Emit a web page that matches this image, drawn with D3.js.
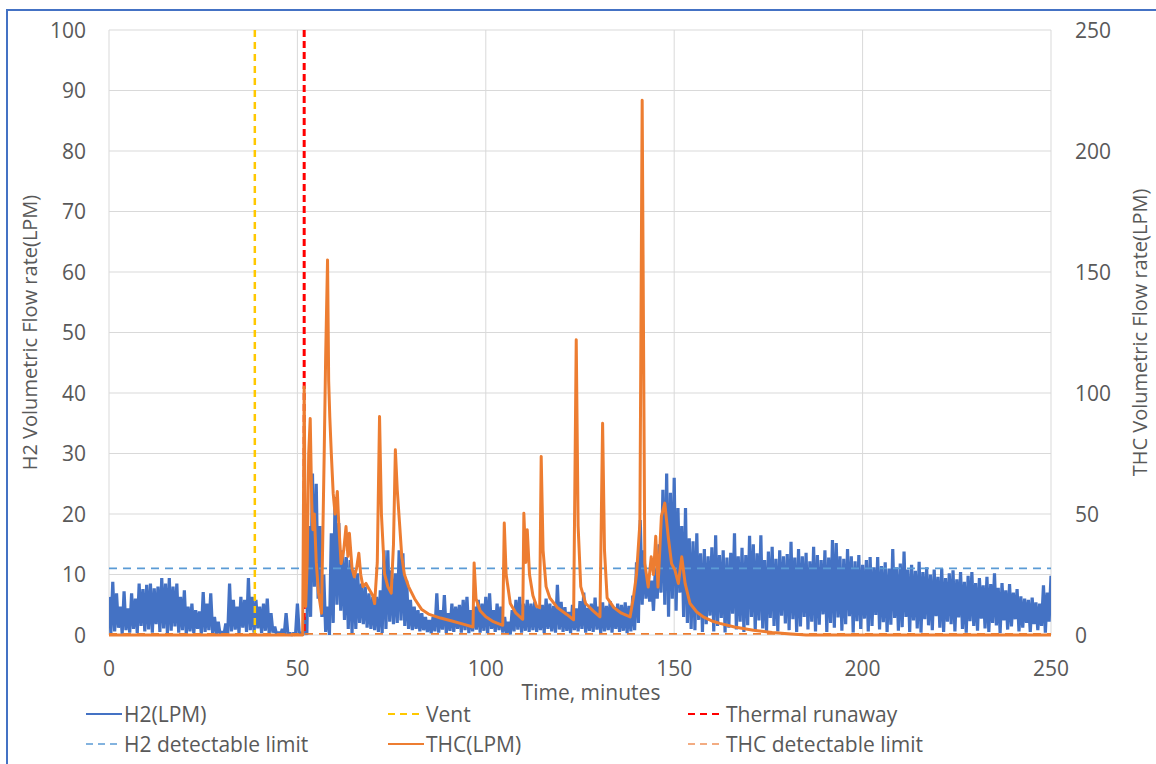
<!DOCTYPE html>
<html>
<head>
<meta charset="utf-8">
<script src="https://cdn.jsdelivr.net/npm/d3@7"></script>
<style>
body { margin: 0; background: #fff; }
svg text { font-family: "Open Sans", sans-serif; fill: #595959; }
</style>
</head>
<body>
<div id="chart"></div>
<script>
// axis ticks
const timeTicks = [0, 50, 100, 150, 200, 250];
const h2Ticks = [0, 10, 20, 30, 40, 50, 60, 70, 80, 90, 100];
const thcTicks = [0, 50, 100, 150, 200, 250];

// event markers and limits
const ventTime = 38.7;
const runawayTime = 51.8;
const h2Limit = 11;     // left axis
const thcLimit = 0.5;   // right axis

// H2 (LPM): per-minute upper and lower envelope, t = 0..250
const h2Hi = [
  6.3, 8.8, 6.9, 4.7, 7.2, 4.4, 6.9, 6.0, 8.5, 7.6,
  8.3, 8.5, 7.7, 8.0, 9.4, 8.5, 9.4, 8.0, 8.5, 6.3,
  7.4, 4.7, 5.2, 4.1, 3.9, 7.1, 5.2, 6.9, 3.0, 2.2,
  0.6, 1.9, 8.5, 5.8, 4.7, 6.3, 5.8, 9.4, 6.3, 5.8,
  4.7, 5.2, 6.0, 3.6, 1.4, 0.5, 1.0, 3.6, 0.3, 0.3,
  5.2, 0.4, 3.0, 18, 26.7, 25, 18, 10, 4.7, 16.8,
  22.8, 18.5, 14, 12.9, 12.4, 10.7, 10.2, 8.5, 8, 6.9,
  6.3, 6.3, 7.4, 14, 14, 10.7, 10.2, 14, 13.5, 9,
  5.8, 4.7, 4.1, 3.6, 3.0, 2.5, 3.0, 6.9, 4.1, 6.6,
  3.6, 5.2, 4.7, 5.0, 5.8, 6.3, 4.1, 4.7, 5.8, 5.2,
  6.3, 6.9, 4.1, 5.2, 4.7, 3.0, 2.2, 4.1, 5.8, 6.3,
  5.2, 5.8, 5.2, 5.5, 4.5, 5.0, 6.0, 5.2, 4.8, 8.3,
  5.5, 4.6, 3.8, 5.0, 4.4, 5.6, 7.0, 4.5, 5.2, 6.2,
  4.7, 5.4, 4.8, 5.6, 4.6, 5.2, 5.0, 5.4, 4.8, 6.5,
  12, 19, 14, 10, 9, 11, 15, 24, 26.7, 23.5,
  26, 21, 18, 21, 16, 15.5, 16.8, 13.5, 14.2, 13,
  14.5, 16.5, 13.2, 14, 12.8, 13.6, 16.8, 13, 14.4, 13.2,
  16.4, 15, 13.5, 16.5, 12.4, 13.8, 14.6, 12.6, 14, 13,
  13.4, 15.4, 12.8, 14.2, 13, 13.6, 12.2, 14.6, 13.2, 12.4,
  14, 12.8, 15.7, 15.2, 13, 12.6, 14.2, 13, 12.2, 13.2,
  11.6, 12.4, 12.9, 11.2, 12.9, 11.4, 12, 11, 14.2, 11.2,
  11.8, 13.8, 10.8, 11.6, 10.6, 12.1, 10.4, 11.2, 10, 10.8,
  9.6, 11, 9.4, 10.2, 10.7, 9.2, 10.4, 8.8, 9.8, 10.4,
  8.6, 9.4, 8.2, 9.6, 8.4, 10.2, 7.8, 8.6, 7.4, 8.4,
  7, 7.6, 6.4, 6, 5.8, 6.2, 5.4, 5.2, 8.2, 7,
  9.8
];
const h2Lo = [
  0.3, 0.6, 1.2, 0.2, 0.8, 0.4, 1.0, 0.3, 1.5, 0.6,
  0.9, 0.4, 1.8, 0.5, 1.1, 0.3, 0.7, 1.4, 0.4, 0.8,
  0.2, 0.6, 0.3, 1.0, 0.2, 0.5, 0.8, 0.3, 0.2, 0,
  0, 0, 0.6, 0.9, 0.3, 1.2, 0.5, 0.8, 0.4, 1.1,
  0.3, 0.7, 0.2, 0.4, 0, 0, 0, 0, 0, 0,
  0.2, 0, 0, 3, 8, 6, 3, 0.5, 0, 2,
  5, 4, 2.5, 1, 0.3, 1, 2, 1.8, 1.2, 1,
  0.8, 0.5, 0.3, 1, 2.2, 1.8, 2, 2.4, 1.5, 1,
  0.8, 1, 0.6, 0.8, 0.5, 0.3, 0.6, 0.4, 0.9, 0.3,
  0.7, 0.5, 1.0, 0.4, 0.8, 0.3, 0.6, 0.9, 0.4, 0.7,
  0.3, 1.0, 0.5, 0.8, 0.4, 0.2, 0.1, 0.6, 0.9, 0.4,
  0.7, 0.5, 0.8, 0.5, 0.8, 0.3, 1.0, 0.6, 0.4, 0.9,
  0.5, 0.7, 0.3, 0.8, 0.6, 1.0, 0.4, 0.7, 0.5, 0.9,
  0.3, 0.6, 0.8, 0.4, 1.0, 0.5, 0.7, 0.3, 0.6, 0.8,
  2, 5, 6, 5.5, 4, 6, 7, 5, 3, 6,
  4, 7, 3, 2, 1, 0.8, 2.5, 0.5, 1.8, 3.2,
  0.6, 1.5, 2.8, 0.4, 1.2, 3.5, 0.9, 2.2, 0.5, 1.6,
  3.0, 0.7, 2.4, 1.1, 0.4, 2.8, 1.5, 0.6, 3.2, 1.9,
  0.8, 2.6, 0.5, 1.4, 3.0, 0.9, 2.2, 0.6, 1.7, 3.4,
  0.5, 2.0, 1.2, 2.9, 0.7, 1.8, 3.1, 0.4, 2.3, 1.0,
  2.7, 0.6, 1.5, 3.3, 0.9, 2.1, 0.5, 1.7, 2.8, 0.7,
  1.3, 3.0, 0.5, 2.4, 1.1, 0.4, 2.6, 1.6, 0.8, 3.1,
  1.2, 0.5, 2.2, 1.8, 0.6, 2.9, 1.0, 0.4, 2.3, 1.5,
  0.7, 2.7, 1.1, 0.5, 2.0, 1.6, 0.3, 2.4, 0.9, 1.4,
  2.6, 0.6, 1.2, 2.0, 0.5, 1.8, 0.8, 1.5, 0.4, 2.2,
  1.0
];

// THC (LPM) on the right axis: [minute, value]
const thc = [
  [0, 0], [51.4, 0], [51.8, 102.5], [52.2, 11.8], [52.6, 30], [53.0, 75], [53.4, 89.5],
  [53.8, 55], [54.1, 43.5], [54.5, 50], [55.0, 30], [55.6, 17.5], [56.4, 9],
  [57.1, 73.8], [57.5, 115], [58.0, 155], [58.3, 105], [58.6, 90], [59.0, 75],
  [59.5, 58.5], [60.0, 50], [60.6, 59.3], [61.0, 45], [61.6, 29.5], [62.3, 35],
  [62.9, 44.8], [63.4, 32.5], [63.8, 42], [64.5, 27.5], [65.1, 24], [65.7, 27.5],
  [66.3, 33.8], [66.8, 25], [67.4, 20], [68.2, 21.3], [69.2, 18.5], [70.0, 16.3],
  [70.5, 13], [71.2, 30], [71.8, 90.3], [72.3, 50], [73.1, 25.5], [74.0, 20],
  [74.9, 17.3], [75.5, 37.5], [76.0, 76.5], [76.5, 60], [77.1, 46.3], [77.7, 32.5],
  [78.4, 25], [79.5, 20], [81.1, 15], [83, 10.5], [85, 8.5], [88, 7], [91, 5.8],
  [94, 4.5], [96.6, 3.3], [96.9, 29.8], [97.4, 15], [98.5, 10], [100, 7.5],
  [102, 5.5], [104.5, 4], [104.9, 46.3], [105.4, 25], [106.5, 13], [108, 9],
  [109.8, 6.5], [110.1, 50.3], [110.6, 30], [111.0, 43.5], [111.6, 25], [112.5, 16.3],
  [113.5, 11.8], [114.3, 11.3], [114.7, 73.8], [115.2, 35], [116, 20], [117, 15.3],
  [119, 11.3], [121.5, 8.5], [123.3, 6.3], [124.0, 122], [124.5, 45], [125.2, 20],
  [126.5, 13], [128.5, 10], [130.3, 7.5], [131.0, 87.5], [131.5, 35], [132.2, 15.3],
  [134, 11.3], [136, 9], [138.3, 7.5], [139.2, 15.8], [140.0, 25], [140.9, 46.3],
  [141.5, 221], [142.2, 29.5], [143.1, 19.8], [143.9, 32.3], [144.5, 25], [145.1, 40.8],
  [145.7, 19.8], [146.6, 49], [147.5, 54.5], [148.4, 40.8], [149.3, 29.5], [150.2, 26.8],
  [151.1, 21.3], [152.0, 32.3], [152.9, 21.3], [154.2, 13], [156, 9.5], [157.7, 7.5],
  [160, 5.8], [162.1, 4.8], [166, 3.3], [171, 2], [176, 1], [181, 0.4], [185, 0], [250, 0]
];

const legendLabels = ["H2(LPM)", "Vent", "Thermal runaway", "H2 detectable limit", "THC(LPM)", "THC detectable limit"];

function drawChart() {
    const width = 1156;
    const height = 764;
    const plot = { left: 109, right: 1051, top: 30, bottom: 635 };

    const svg = d3.select("#chart")
        .append("svg")
        .attr("width", width)
        .attr("height", height);

    // outer frame of the pasted chart
    svg.append("rect")
        .attr("x", 7).attr("y", 10)
        .attr("width", 1170).attr("height", 780)
        .style("fill", "none")
        .style("stroke", "#4472c4")
        .style("stroke-width", 2);

    const x = d3.scaleLinear().domain([0, 250]).range([plot.left, plot.right]);
    const yL = d3.scaleLinear().domain([0, 100]).range([plot.bottom, plot.top]);
    const yR = d3.scaleLinear().domain([0, 250]).range([plot.bottom, plot.top]);

    // gridlines
    svg.append("g").selectAll("line")
        .data(h2Ticks)
        .join("line")
        .attr("x1", plot.left).attr("x2", plot.right)
        .attr("y1", d => yL(d)).attr("y2", d => yL(d))
        .style("stroke", "#d9d9d9");

    svg.append("g").selectAll("line")
        .data(timeTicks)
        .join("line")
        .attr("x1", d => x(d)).attr("x2", d => x(d))
        .attr("y1", plot.top).attr("y2", plot.bottom)
        .style("stroke", "#d9d9d9");

    // tick labels
    svg.append("g").selectAll("text")
        .data(h2Ticks)
        .join("text")
        .attr("x", 86)
        .attr("y", d => yL(d))
        .attr("dy", "0.36em")
        .attr("text-anchor", "end")
        .style("font-size", "21px")
        .text(d => d);

    svg.append("g").selectAll("text")
        .data(thcTicks)
        .join("text")
        .attr("x", 1075)
        .attr("y", d => yR(d))
        .attr("dy", "0.36em")
        .style("font-size", "21px")
        .text(d => d);

    svg.append("g").selectAll("text")
        .data(timeTicks)
        .join("text")
        .attr("x", d => x(d))
        .attr("y", 668)
        .attr("dy", "0.36em")
        .attr("text-anchor", "middle")
        .style("font-size", "21px")
        .text(d => d);

    // axis titles
    svg.append("text")
        .attr("transform", `translate(30,${(plot.top + plot.bottom) / 2}) rotate(-90)`)
        .attr("dy", "0.36em")
        .attr("text-anchor", "middle")
        .style("font-size", "20px")
        .text("H2 Volumetric Flow rate(LPM)");

    svg.append("text")
        .attr("transform", `translate(1140,${(plot.top + plot.bottom) / 2}) rotate(-90)`)
        .attr("dy", "0.36em")
        .attr("text-anchor", "middle")
        .style("font-size", "20px")
        .text("THC Volumetric Flow rate(LPM)");

    svg.append("text")
        .attr("x", 591).attr("y", 692)
        .attr("dy", "0.36em")
        .attr("text-anchor", "middle")
        .style("font-size", "21px")
        .text("Time, minutes");

    svg.append("clipPath").attr("id", "plot-clip")
        .append("rect")
        .attr("x", plot.left).attr("y", plot.top - 2)
        .attr("width", plot.right - plot.left).attr("height", plot.bottom - plot.top + 4);

    const g = svg.append("g").attr("clip-path", "url(#plot-clip)");

    // H2 trace: zig-zag between per-minute high and low
    const h2Points = h2Hi.flatMap((v, i) => [[i, v], [i + 0.5, h2Lo[i]]]).filter(d => d[0] <= 250);
    const h2Line = d3.line().x(d => x(d[0])).y(d => yL(d[1]));
    g.append("path")
        .datum(h2Points)
        .attr("d", h2Line)
        .style("fill", "none")
        .style("stroke", "#4472c4")
        .style("stroke-width", 3.2)
        .style("stroke-linejoin", "bevel");

    // vent and thermal runaway markers
    g.append("line")
        .attr("x1", x(ventTime)).attr("x2", x(ventTime))
        .attr("y1", yL(100)).attr("y2", yL(0))
        .style("stroke", "#ffc800")
        .style("stroke-width", 2.5)
        .style("stroke-dasharray", "7,5");

    g.append("line")
        .attr("x1", x(runawayTime)).attr("x2", x(runawayTime))
        .attr("y1", yL(100)).attr("y2", yL(0))
        .style("stroke", "#ff0000")
        .style("stroke-width", 3)
        .style("stroke-dasharray", "7,4");

    // H2 detectable limit
    g.append("line")
        .attr("x1", x(0)).attr("x2", x(250))
        .attr("y1", yL(h2Limit)).attr("y2", yL(h2Limit))
        .style("stroke", "#5b9bd5")
        .style("stroke-width", 1.8)
        .style("stroke-dasharray", "8,6");

    // THC trace
    const thcLine = d3.line().x(d => x(d[0])).y(d => yR(d[1]));
    g.append("path")
        .datum(thc)
        .attr("d", thcLine)
        .style("fill", "none")
        .style("stroke", "#ed7d31")
        .style("stroke-width", 3)
        .style("stroke-linejoin", "round");

    // THC detectable limit
    g.append("line")
        .attr("x1", x(0)).attr("x2", x(250))
        .attr("y1", yR(thcLimit)).attr("y2", yR(thcLimit))
        .style("stroke", "#ed7d31")
        .style("stroke-width", 1.8)
        .style("stroke-dasharray", "8,6");

    // legend
    const legendStyles = [
        { color: "#4472c4", dash: null, w: 2 },
        { color: "#ffc800", dash: "7,5", w: 2 },
        { color: "#ff0000", dash: "7,5", w: 2 },
        { color: "#5b9bd5", dash: "7,5", w: 1.6 },
        { color: "#ed7d31", dash: null, w: 2.2 },
        { color: "#f0915a", dash: "7,5", w: 1.6 }
    ];
    const colX = [86, 388, 688];
    const rowY = [714, 744];

    const leg = svg.append("g").selectAll("g")
        .data(legendLabels)
        .join("g")
        .attr("transform", (d, i) => `translate(${colX[i % 3]},${rowY[Math.floor(i / 3)]})`);

    leg.append("line")
        .attr("x1", 0).attr("x2", 36)
        .attr("y1", 0).attr("y2", 0)
        .style("stroke", (d, i) => legendStyles[i].color)
        .style("stroke-width", (d, i) => legendStyles[i].w)
        .style("stroke-dasharray", (d, i) => legendStyles[i].dash);

    leg.append("text")
        .attr("x", 38)
        .attr("y", 0)
        .attr("dy", "0.36em")
        .style("font-size", "21px")
        .text(d => d);
}

drawChart();
</script>
</body>
</html>
